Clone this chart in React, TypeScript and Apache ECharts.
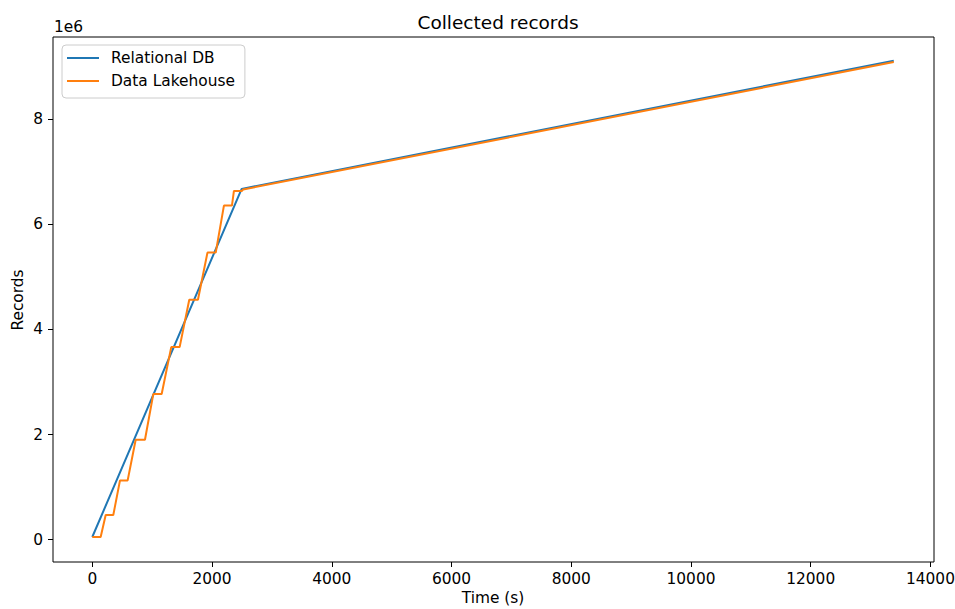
import React, { useEffect, useRef } from "react";
import * as echarts from "echarts";

const relTime = [0, 2495, 13387];
const relRecords = [51000, 6670000, 9108000];

const lakeTime = [0, 140, 224, 351, 463, 591, 725, 880, 1019, 1159, 1319, 1459, 1620, 1765, 1924, 2062, 2199, 2333, 2366, 2500, 2520, 13387];
const lakeRecords = [51000, 51000, 469000, 469000, 1127000, 1127000, 1900000, 1900000, 2769000, 2769000, 3662000, 3662000, 4561000, 4561000, 5459000, 5459000, 6352000, 6352000, 6632000, 6632000, 6660000, 9083000];

const xTicks = [0, 2000, 4000, 6000, 8000, 10000, 12000, 14000];
const yTicks = [0, 2000000, 4000000, 6000000, 8000000];

const FONT = "DejaVu Sans";
const FS = 15.4;

export default function App() {
  const ref = useRef<HTMLDivElement>(null);
  useEffect(() => {
    if (!ref.current) return;
    const chart = echarts.init(ref.current, null, { renderer: "svg" });
    const relData = relTime.map((t, i) => [t, relRecords[i]]);
    const lakeData = lakeTime.map((t, i) => [t, lakeRecords[i]]);
    chart.setOption({
      animation: false,
      backgroundColor: "#ffffff",
      textStyle: { fontFamily: FONT },
      title: {
        text: "Collected records",
        left: 493,
        top: 8,
        textAlign: "center",
        textStyle: { fontFamily: FONT, fontSize: 18.5, fontWeight: "normal", color: "#000" },
      },
      grid: {
        left: 53,
        top: 37,
        right: 21,
        bottom: 47,
        show: true,
        borderColor: "#000",
        borderWidth: 1,
        containLabel: false,
        outerBoundsMode: "none",
      },
      legend: {
        left: 62,
        top: 45,
        orient: "vertical",
        icon: "rect",
        itemWidth: 32,
        itemHeight: 2,
        itemGap: 5,
        padding: [4, 10, 8, 5],
        backgroundColor: "rgba(255,255,255,0.8)",
        borderColor: "#cccccc",
        borderWidth: 1,
        borderRadius: 4,
        textStyle: { fontFamily: FONT, fontSize: FS, color: "#000", lineHeight: 18, padding: [0, 0, 0, 7] },
        data: ["Relational DB", "Data Lakehouse"],
      },
      xAxis: {
        type: "value",
        min: -656,
        max: 14059,
        axisLine: { show: false, onZero: false },
        splitLine: { show: false },
        axisTick: { show: true, length: 5, lineStyle: { color: "#000" }, customValues: xTicks },
        axisLabel: {
          customValues: xTicks,
          fontFamily: FONT,
          fontSize: FS,
          color: "#000",
          margin: 9,
          formatter: (v: number) => String(v),
        },
      },
      yAxis: {
        type: "value",
        min: -424000,
        max: 9558000,
        axisLine: { show: false, onZero: false },
        splitLine: { show: false },
        axisTick: { show: true, length: 5, lineStyle: { color: "#000" }, customValues: yTicks },
        axisLabel: {
          customValues: yTicks,
          fontFamily: FONT,
          fontSize: FS,
          color: "#000",
          margin: 10,
          formatter: (v: number) => String(Math.round(v / 1e6)),
        },
      },
      graphic: [
        { type: "text", x: 54, y: 27, style: { text: "1e6", fontFamily: FONT, fontSize: FS, fill: "#000", verticalAlign: "middle" } },
        { type: "text", x: 18, y: 300, rotation: Math.PI / 2, style: { text: "Records", fontFamily: FONT, fontSize: FS, fill: "#000", align: "center", verticalAlign: "middle" } },
        { type: "text", x: 493, y: 598, style: { text: "Time (s)", fontFamily: FONT, fontSize: FS, fill: "#000", align: "center", verticalAlign: "middle" } },
      ],
      series: [
        {
          name: "Relational DB",
          type: "line",
          data: relData,
          showSymbol: false,
          color: "#1f77b4",
          lineStyle: { width: 2, color: "#1f77b4" },
        },
        {
          name: "Data Lakehouse",
          type: "line",
          data: lakeData,
          showSymbol: false,
          color: "#ff7f0e",
          lineStyle: { width: 2, color: "#ff7f0e" },
        },
      ],
    });
    return () => chart.dispose();
  }, []);
  return <div ref={ref} style={{ position: "fixed", left: 0, top: 0, width: 955, height: 609 }} />;
}
